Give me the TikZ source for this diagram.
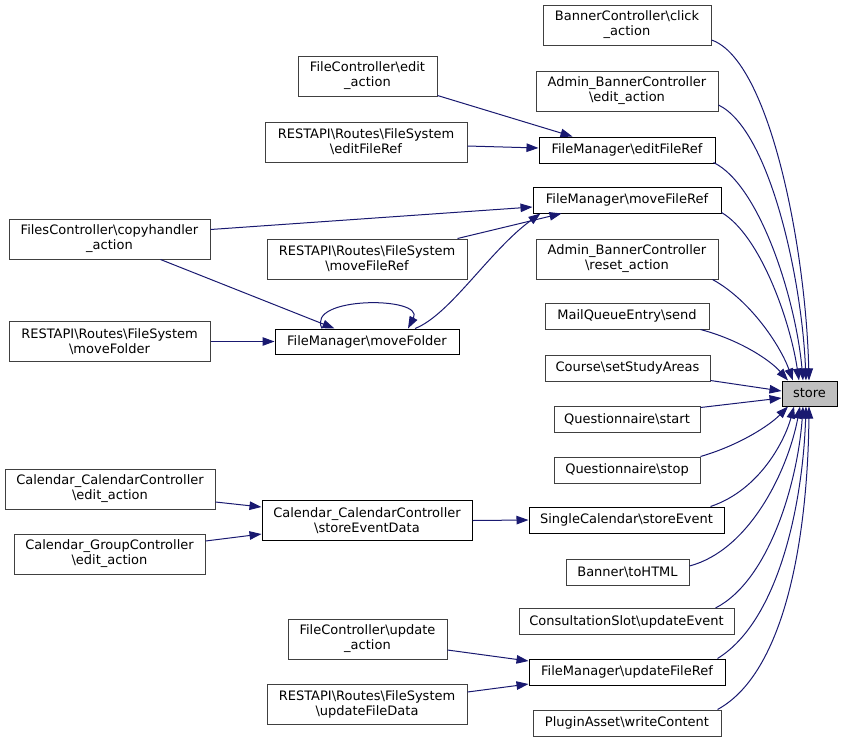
\documentclass[tikz,border=0pt]{standalone}
\usepackage{fontspec}
\setmainfont{DejaVu Sans}
\usetikzlibrary{arrows.meta}
\definecolor{edgeblue}{HTML}{191970}
\definecolor{leafgray}{HTML}{404040}
\definecolor{storefill}{HTML}{BFBFBF}
\newcommand{\bsl}{\textbackslash}
\begin{document}
\begin{tikzpicture}[x=1pt,y=-1pt,
  nodebox/.style={draw=black, line width=1pt, fill=white, inner sep=0pt, align=center,
    font=\fontsize{13pt}{15pt}\selectfont},
  leaf/.style={nodebox, draw=leafgray},
  mid/.style={nodebox, draw=black},
  edge/.style={draw=edgeblue, line width=1pt, -{Triangle[length=12pt,width=8.5pt]}}]
\useasboundingbox (0,0) rectangle (843,742);
% right column
\node[leaf, minimum width=168pt, minimum height=40pt] (click) at (627,25) {BannerController\bsl click\\\_action};
\node[leaf, minimum width=182pt, minimum height=40pt] (aedit) at (627,91) {Admin\_BannerController\\\bsl edit\_action};
\node[mid, minimum width=176pt, minimum height=26pt] (efr) at (627,150) {FileManager\bsl editFileRef};
\node[mid, minimum width=188pt, minimum height=26pt] (mfr) at (627,200) {FileManager\bsl moveFileRef};
\node[leaf, minimum width=182pt, minimum height=40pt] (reset) at (627,259) {Admin\_BannerController\\\bsl reset\_action};
\node[leaf, minimum width=164pt, minimum height=26pt] (send) at (627,316) {MailQueueEntry\bsl send};
\node[leaf, minimum width=165pt, minimum height=26pt] (ssa) at (627.5,368) {Course\bsl setStudyAreas};
\node[leaf, minimum width=146pt, minimum height=26pt] (qstart) at (627,419) {Questionnaire\bsl start};
\node[leaf, minimum width=146pt, minimum height=26pt] (qstop) at (627,470) {Questionnaire\bsl stop};
\node[mid, minimum width=195pt, minimum height=26pt] (sce) at (626.5,520) {SingleCalendar\bsl storeEvent};
\node[leaf, minimum width=123pt, minimum height=26pt] (toh) at (627.5,572) {Banner\bsl toHTML};
\node[leaf, minimum width=215pt, minimum height=26pt] (cse) at (626.5,621.5) {ConsultationSlot\bsl updateEvent};
\node[mid, minimum width=196pt, minimum height=26pt] (ufr) at (627,672) {FileManager\bsl updateFileRef};
\node[leaf, minimum width=188pt, minimum height=26pt] (wc) at (627,723) {PluginAsset\bsl writeContent};
\node[mid, fill=storefill, minimum width=55pt, minimum height=25pt] (store) at (809.5,393.5) {store};
% left columns
\node[leaf, minimum width=139pt, minimum height=40pt] (fce) at (367.5,76) {FileController\bsl edit\\\_action};
\node[leaf, minimum width=202pt, minimum height=40pt] (refr) at (366,142) {RESTAPI\bsl Routes\bsl FileSystem\\\bsl editFileRef};
\node[leaf, minimum width=201pt, minimum height=40pt] (copy) at (109.5,239) {FilesController\bsl copyhandler\\\_action};
\node[leaf, minimum width=200pt, minimum height=40pt] (rmfr) at (367,259) {RESTAPI\bsl Routes\bsl FileSystem\\\bsl moveFileRef};
\node[leaf, minimum width=201pt, minimum height=40pt] (rmf) at (109.5,341.5) {RESTAPI\bsl Routes\bsl FileSystem\\\bsl moveFolder};
\node[mid, minimum width=184pt, minimum height=25pt] (mf) at (367,341.5) {FileManager\bsl moveFolder};
\node[leaf, minimum width=210pt, minimum height=40pt] (cce) at (110,489) {Calendar\_CalendarController\\\bsl edit\_action};
\node[leaf, minimum width=191pt, minimum height=40pt] (gce) at (109.5,554) {Calendar\_GroupController\\\bsl edit\_action};
\node[mid, minimum width=210pt, minimum height=40pt] (sed) at (367,520.5) {Calendar\_CalendarController\\\bsl storeEventData};
\node[leaf, minimum width=159pt, minimum height=40pt] (fcu) at (367.5,639) {FileController\bsl update\\\_action};
\node[leaf, minimum width=200pt, minimum height=40pt] (rufd) at (367,704) {RESTAPI\bsl Routes\bsl FileSystem\\\bsl updateFileData};
% edges into store
\draw[edge] ([yshift=-15pt]click.east) .. controls (770,60) and (806,250) .. ([xshift=-0.5pt]store.north);
\draw[edge] ([yshift=-14pt]aedit.east) .. controls (770,130) and (802,280) .. ([xshift=-3.5pt]store.north);
\draw[edge] ([xshift=-2pt,yshift=1pt]efr.south east) .. controls (760,185) and (796,300) .. ([xshift=-6.5pt]store.north);
\draw[edge] ([yshift=1pt]mfr.south east) .. controls (760,235) and (790,320) .. ([xshift=-10.5pt]store.north);
\draw[edge] ([xshift=-6pt]reset.south east) .. controls (750,300) and (780,345) .. ([xshift=-16.5pt]store.north);
\draw[edge] ([xshift=-9pt]send.south east) .. controls (740,340) and (770,360) .. ([xshift=-21.5pt]store.north);
\draw[edge] ([yshift=1pt]ssa.south east) -- ([yshift=2.5pt]store.west);
\draw[edge] ([yshift=-2pt]qstart.north east) -- ([yshift=-4.5pt]store.west);
\draw[edge] (qstop.north east) .. controls (740,445) and (770,425) .. ([xshift=-21.5pt]store.south);
\draw[edge] ([xshift=-14pt]sce.north east) .. controls (760,490) and (785,440) .. ([xshift=-15.5pt]store.south);
\draw[edge] ([yshift=6pt]toh.east) .. controls (750,550) and (788,470) .. ([xshift=-9.5pt]store.south);
\draw[edge] ([xshift=-19pt]cse.north east) .. controls (770,580) and (798,480) .. ([xshift=-6.5pt]store.south);
\draw[edge] ([xshift=-8pt]ufr.north east) .. controls (780,620) and (803,500) .. ([xshift=-3.5pt]store.south);
\draw[edge] ([xshift=-4pt]wc.north east) .. controls (790,670) and (808,520) .. ([xshift=-0.5pt]store.south);
% left edges
\draw[edge] ([yshift=1pt]fce.south east) -- ([xshift=34pt]efr.north west);
\draw[edge] ([yshift=-4pt]refr.east) -- ([yshift=2pt]efr.west);
\draw[edge] ([yshift=-11pt]copy.north east) -- ([yshift=-7pt]mfr.west);
\draw[edge] ([xshift=-50pt]copy.south east) -- ([xshift=60pt]mf.north west);
\draw[edge] (rmf.east) -- (mf.west);
\draw[edge] ([xshift=-10pt]rmfr.north east) -- ([xshift=29pt]mfr.south west);
\draw[edge] ([xshift=48pt]mf.north) .. controls (450,315) and (490,250) .. ([xshift=8pt]mfr.south west);
\draw[edge] ([xshift=-45pt]mf.north) .. controls (305,296) and (425,296) .. ([xshift=41pt]mf.north);
\draw[edge] ([yshift=-13pt]cce.east) -- ([yshift=13.5pt]sed.west);
\draw[edge] ([yshift=13pt]gce.east) -- ([yshift=-13.5pt]sed.west);
\draw[edge] (sed.east) -- (sce.west);
\draw[edge] ([yshift=-11pt]fcu.east) -- ([yshift=11pt]ufr.west);
\draw[edge] ([yshift=12pt]rufd.east) -- ([yshift=-12pt]ufr.west);
\end{tikzpicture}
\end{document}
